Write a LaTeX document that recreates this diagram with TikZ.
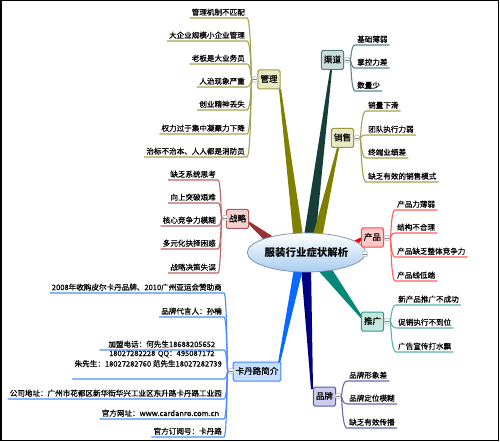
\documentclass[tikz,border=0pt]{standalone}
\usepackage{fontspec}
\setmainfont{Noto Sans CJK SC}
\newfontfamily\leaffont[FakeBold=0.6]{Noto Sans CJK SC}
\usetikzlibrary{calc,shapes.geometric,backgrounds}
\definecolor{olvB}{HTML}{808000}\definecolor{olvF}{HTML}{E8E8C4}\definecolor{olvD}{HTML}{9A9A3C}\definecolor{olvL}{HTML}{A4A450}
\definecolor{chB}{HTML}{173F3A}\definecolor{chF}{HTML}{C9DBDB}\definecolor{chD}{HTML}{587C7C}\definecolor{chL}{HTML}{5F8585}
\definecolor{cpB}{HTML}{FF0000}\definecolor{cpF}{HTML}{FFC8C8}\definecolor{cpD}{HTML}{FF4A4A}\definecolor{cpL}{HTML}{FF5E5E}
\definecolor{tgB}{HTML}{008878}\definecolor{tgF}{HTML}{C8E6E0}\definecolor{tgD}{HTML}{2E9A8A}\definecolor{tgL}{HTML}{5AB4A8}
\definecolor{ppB}{HTML}{000080}\definecolor{ppF}{HTML}{CCCCEC}\definecolor{ppD}{HTML}{5A5AAA}\definecolor{ppL}{HTML}{6868B4}
\definecolor{kdB}{HTML}{0A6AFF}\definecolor{kdF}{HTML}{C8DEFF}\definecolor{kdD}{HTML}{3F86FF}\definecolor{kdL}{HTML}{4A8CFF}
\definecolor{zlB}{HTML}{993333}\definecolor{zlF}{HTML}{F2D0D0}\definecolor{zlD}{HTML}{B45A5A}\definecolor{zlL}{HTML}{B86666}
\tikzset{
  topic/.style={draw, rounded corners=1.5bp, line width=1bp, font=\leaffont\fontsize{8.6}{9}\selectfont,
    minimum height=19bp, inner xsep=2.5bp, inner ysep=0pt, text height=7bp, text depth=1.5bp},
  leafR/.style={anchor=south west, inner xsep=2bp, inner ysep=1.2bp, font=\leaffont\fontsize{7.6}{9}\selectfont,
    text height=6.5bp, text depth=1.5bp},
  leafL/.style={leafR, anchor=south east},
  colbtn/.style={circle, draw=gray!60, fill=white, minimum size=6bp, inner sep=0pt, line width=0.5bp,
    path picture={\draw[gray, line width=0.5bp] ([xshift=-1.6bp]path picture bounding box.center) -- ([xshift=1.6bp]path picture bounding box.center);}},
  lnk/.style={line width=1.1bp}
}
\newcommand\lkR[3]{\draw[lnk,#1] (#2) .. controls ($(#2)+(4,0)$) and ($(#2 |- #3.south west)+(4,0)$) .. (#3.south west) -- (#3.south east);}
\newcommand\lkL[3]{\draw[lnk,#1] (#2) .. controls ($(#2)+(-4,0)$) and ($(#2 |- #3.south east)+(-4,0)$) .. (#3.south east) -- (#3.south west);}
\newcommand\wdg[4]{\fill[#1] ($(#2)!#4!90:(#3)$) -- ($(#3)!1bp!-90:(#2)$) -- ($(#3)!1bp!90:(#2)$) -- ($(#2)!#4!-90:(#3)$) -- cycle;}
\begin{document}
\begin{tikzpicture}[x=1bp,y=-1bp]
\useasboundingbox (0,0) rectangle (500,442);
% central topic
\node[ellipse, draw={rgb,255:red,130;green,150;blue,175}, line width=0.8bp, minimum width=113bp, minimum height=39bp, inner sep=0pt,
  top color=white, bottom color={rgb,255:red,168;green,204;blue,240}, font=\fontsize{10.5}{11}\selectfont\bfseries] (root) at (306.5,252.5) {服装行业症状解析};
\node[colbtn] (croot) at (365,254) {};
% main topics
\node[topic, fill=olvF, draw=olvD] (gl) at (269,79.5) {管理};
\node[topic, fill=chF, draw=chD] (qd) at (332.5,60) {渠道};
\node[topic, fill=olvF, draw=olvD] (xs) at (342.5,138) {销售};
\node[topic, fill=cpF, draw=cpD] (cp) at (372.5,237.5) {产品};
\node[topic, fill=tgF, draw=tgD] (tg) at (372.5,321.5) {推广};
\node[topic, fill=ppF, draw=ppD] (pp) at (324.5,396.5) {品牌};
\node[topic, fill=kdF, draw=kdD] (kd) at (257,371.5) {卡丹路简介};
\node[topic, fill=zlF, draw=zlD] (zl) at (237.5,219) {战略};
% wedge coordinates
\coordinate (bgl) at (299,243); \coordinate (agl) at (280,89);
\coordinate (bqd) at (309,243); \coordinate (aqd) at (331,70);
\coordinate (bxs) at (316,243); \coordinate (axs) at (338,148);
\coordinate (bzl) at (274,243); \coordinate (azl) at (248,222);
\coordinate (bcp) at (350,247); \coordinate (acp) at (362,238);
\coordinate (btg) at (324,268); \coordinate (atg) at (362,318);
\coordinate (bpp) at (306,266); \coordinate (app) at (312,389);
\coordinate (bkd) at (299,266); \coordinate (akd) at (279,363);
\begin{scope}[on background layer]
\fill[white] (0,0) rectangle (500,442);
\wdg{olvB}{bgl}{agl}{5bp}
\wdg{chB}{bqd}{aqd}{6bp}
\wdg{olvB}{bxs}{axs}{5bp}
\wdg{zlB}{bzl}{azl}{5bp}
\wdg{cpB}{bcp}{acp}{4bp}
\wdg{tgB}{btg}{atg}{6bp}
\wdg{ppB}{bpp}{app}{5bp}
\wdg{kdB}{bkd}{akd}{4.5bp}
\end{scope}
% collapse buttons
\node[colbtn] (cgl) at (255,79.5) {};
\node[colbtn] (cqd) at (347,60) {};
\node[colbtn] (cxs) at (357,138) {};
\node[colbtn] (ccp) at (387,238) {};
\node[colbtn] (ctg) at (387,321) {};
\node[colbtn] (cpp) at (338,396) {};
\node[colbtn] (ckd) at (231,371) {};
\node[colbtn] (czl) at (225,218) {};
% 管理
\node[leafL] (g1) at (247,18) {管理机制不匹配};
\node[leafL] (g2) at (247,41) {大企业规模小企业管理};
\node[leafL] (g3) at (247,64) {老板是大业务员};
\node[leafL] (g4) at (247,87) {人治现象严重};
\node[leafL] (g5) at (247,110) {创业精神丢失};
\node[leafL] (g6) at (247,134) {权力过于集中凝聚力下降};
\node[leafL] (g7) at (247,157) {治标不治本、人人都是消防员};
\foreach \n in {g1,g2,g3,g4,g5,g6,g7}{\lkL{olvL}{cgl}{\n}}
% 渠道
\node[leafR] (q1) at (355,45) {基础薄弱};
\node[leafR] (q2) at (355,68) {掌控力差};
\node[leafR] (q3) at (355,91) {数量少};
\foreach \n in {q1,q2,q3}{\lkR{chL}{cqd}{\n}}
% 销售
\node[leafR] (x1) at (366,111) {销量下滑};
\node[leafR] (x2) at (366,135) {团队执行力弱};
\node[leafR] (x3) at (366,158) {终端业绩差};
\node[leafR] (x4) at (366,182) {缺乏有效的销售模式};
\foreach \n in {x1,x2,x3,x4}{\lkR{olvL}{cxs}{\n}}
% 产品
\node[leafR] (p1) at (395,210) {产品力薄弱};
\node[leafR] (p2) at (395,233) {结构不合理};
\node[leafR] (p3) at (395,257) {产品缺乏整体竞争力};
\node[leafR] (p4) at (395,281) {产品线低端};
\foreach \n in {p1,p2,p3,p4}{\lkR{cpL}{ccp}{\n}}
% 推广
\node[leafR] (t1) at (396,305) {新产品推广不成功};
\node[leafR] (t2) at (396,328) {促销执行不到位};
\node[leafR] (t3) at (396,352) {广告宣传打水飘};
\foreach \n in {t1,t2,t3}{\lkR{tgL}{ctg}{\n}}
% 品牌
\node[leafR] (b1) at (347,381) {品牌形象差};
\node[leafR] (b2) at (347,404) {品牌定位模糊};
\node[leafR] (b3) at (347,428) {缺乏有效传播};
\foreach \n in {b1,b2,b3}{\lkR{ppL}{cpp}{\n}}
% 战略
\node[leafL] (z1) at (218,180) {缺乏系统思考};
\node[leafL] (z2) at (218,203) {向上突破艰难};
\node[leafL] (z3) at (218,226) {核心竞争力模糊};
\node[leafL] (z4) at (218,249) {多元化抉择困惑};
\node[leafL] (z5) at (218,273) {战略决策失误};
\foreach \n in {z1,z2,z3,z4,z5}{\lkL{zlL}{czl}{\n}}
% 卡丹路简介
\node[leafL] (k1) at (224,293) {2008年收购皮尔卡丹品牌、2010广州亚运会赞助商};
\node[leafL] (k2) at (224,317) {品牌代言人：孙楠};
\node[leafL, text width=120bp, align=center] (k3) at (224,350) {加盟电话：何先生18688205652\\18027282228 QQ：495087172};
\node[leafL, text depth=11bp] (k4) at (224,379) {朱先生：18027282760 范先生18027282739};
\node[leafL] (k5) at (224,399) {公司地址：广州市花都区新华街华兴工业区东升路卡丹路工业园};
\node[leafL, text width=120bp, align=left] (k6) at (224,419) {官方网址：www.cardanro.com.cn};
\node[leafL] (k7) at (224,437) {官方订阅号：卡丹路};
\foreach \n in {k1,k2,k3,k4,k5,k6,k7}{\lkL{kdL}{ckd}{\n}}
% frame
\draw[black, line width=1.5bp] (0.75,0.75) rectangle (498.5,440.5);
\end{tikzpicture}
\end{document}
